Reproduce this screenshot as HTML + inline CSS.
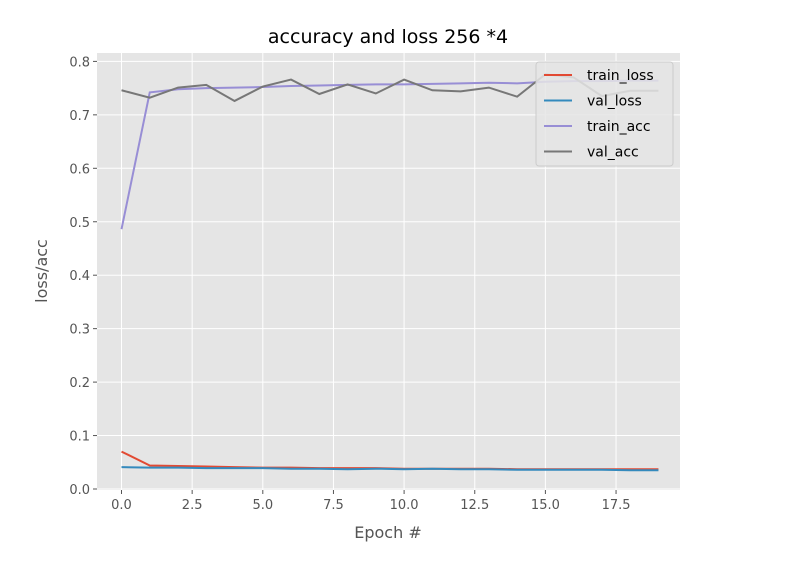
<!DOCTYPE html>
<html><head><meta charset="utf-8"><style>
body{margin:0;background:#fff;}
svg{display:block;font-family:"DejaVu Sans","Liberation Sans",sans-serif;}
</style></head><body>
<svg id="chart" width="785" height="579">
<rect x="97" y="53" width="583" height="437" fill="#e5e5e5"/>
<g id="grid"></g>
<g id="series"></g>
<g id="ticks"></g>
<text x="388" y="43" font-size="19" text-anchor="middle" fill="#000">accuracy and loss 256 *4</text>
<text x="388" y="538" font-size="16" text-anchor="middle" fill="#555">Epoch #</text>
<text transform="translate(47,271) rotate(-90)" font-size="16" text-anchor="middle" fill="#555">loss/acc</text>
<g>
<rect x="536" y="62" width="137" height="104" rx="3" fill="#e5e5e5" fill-opacity="0.85" stroke="#ccc"/>
<g id="legend-entries"></g>
</g>
</svg>
<script>
const epochs=[0,1,2,3,4,5,6,7,8,9,10,11,12,13,14,15,16,17,18,19];
const trainLoss=[0.070,0.044,0.043,0.042,0.041,0.040,0.040,0.039,0.039,0.039,0.038,0.038,0.038,0.038,0.037,0.037,0.037,0.037,0.037,0.037];
const valLoss=[0.041,0.040,0.040,0.039,0.039,0.039,0.038,0.038,0.037,0.038,0.037,0.038,0.037,0.037,0.036,0.036,0.036,0.036,0.035,0.035];
const trainAcc=[0.486,0.742,0.748,0.750,0.751,0.752,0.754,0.755,0.756,0.757,0.757,0.758,0.759,0.760,0.759,0.762,0.763,0.763,0.764,0.764];
const valAcc=[0.746,0.732,0.751,0.756,0.726,0.753,0.766,0.739,0.757,0.740,0.766,0.746,0.744,0.751,0.734,0.776,0.770,0.735,0.745,0.745];
const xTicks=[0,2.5,5,7.5,10,12.5,15,17.5];
const yTicks=[0,0.1,0.2,0.3,0.4,0.5,0.6,0.7,0.8];
const seriesNames=["train_loss","val_loss","train_acc","val_acc"];
const seriesColors=["#e24a33","#348abd","#988ed5","#777777"];
const NS="http://www.w3.org/2000/svg";
const X=v=>121.5+v*28.26;
const Y=v=>489-v*534.5;
function mk(tag,attrs,parent){const e=document.createElementNS(NS,tag);for(const k in attrs)e.setAttribute(k,attrs[k]);parent.appendChild(e);return e;}
const grid=document.getElementById('grid'),ticks=document.getElementById('ticks'),series=document.getElementById('series');
xTicks.forEach(t=>{
 const l=mk('line',{x1:X(t),x2:X(t),y1:53,y2:490,stroke:'#fff','stroke-width':1},grid);
 
 
 const tk=mk('line',{x1:X(t),x2:X(t),y1:490,y2:494,stroke:'#555'},ticks);
 
 
 const tx=mk('text',{x:X(t),y:509,'font-size':13,'text-anchor':'middle',fill:'#555'},ticks);
 tx.textContent=t.toFixed(1);
 
 
});
yTicks.forEach(t=>{
 const l=mk('line',{x1:97,x2:680,y1:Y(t),y2:Y(t),stroke:'#fff','stroke-width':1},grid);
 
 
 const tk=mk('line',{x1:93,x2:97,y1:Y(t),y2:Y(t),stroke:'#555'},ticks);
 
 
 const tx=mk('text',{x:90,y:Y(t)+5,'font-size':13,'text-anchor':'end',fill:'#555'},ticks);
 tx.textContent=t.toFixed(1);
 
 
});
[trainLoss,valLoss,trainAcc,valAcc].forEach((arr,i)=>{
 const p=mk('polyline',{points:arr.map((v,j)=>X(epochs[j])+','+Y(v)).join(' '),fill:'none',stroke:seriesColors[i],'stroke-width':2},series);
 
 
});
const le=document.getElementById('legend-entries');
seriesNames.forEach((n,i)=>{
 const y=75+i*25.5;
 const l=mk('line',{x1:544,x2:572,y1:y,y2:y,stroke:seriesColors[i],'stroke-width':2},le);
 
 
 const t=mk('text',{x:587,y:y+5,'font-size':14,fill:'#000'},le);
 t.textContent=n;
 
 
});
</script>
</body></html>
